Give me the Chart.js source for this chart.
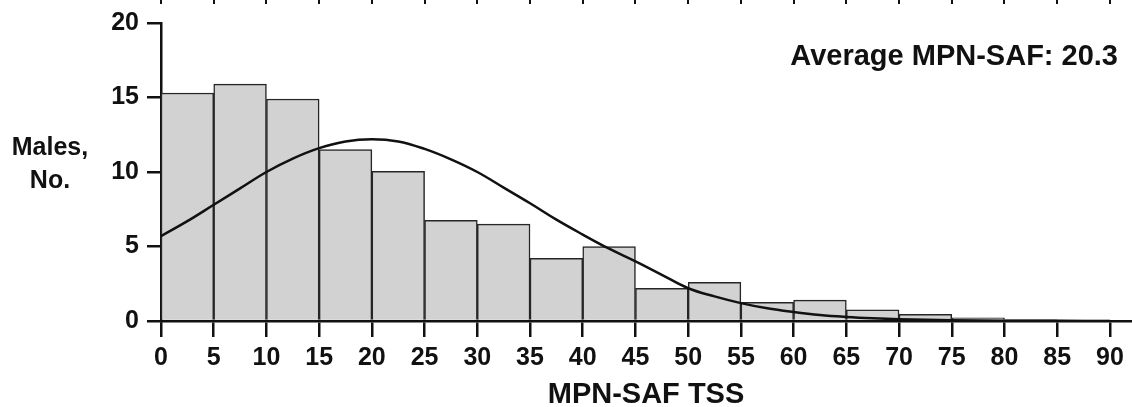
<!DOCTYPE html>
<html>
<head>
<meta charset="utf-8">
<script src="https://cdn.jsdelivr.net/npm/chart.js@4.4.1/dist/chart.umd.min.js"></script>
<style>
  html, body { margin: 0; background: #fff; }
  #wrap { width: 1132px; height: 407px; position: relative; }
</style>
</head>
<body>
<div id="wrap"><canvas id="c"></canvas></div>
<script>
// histogram bins (5-point wide), centres and heights
const binCenters = [2.5, 7.5, 12.5, 17.5, 22.5, 27.5, 32.5, 37.5, 42.5, 47.5, 52.5, 57.5, 62.5, 67.5, 72.5, 77.5, 82.5, 87.5];
const counts = [15.3, 15.9, 14.9, 11.5, 10.05, 6.75, 6.5, 4.2, 5.0, 2.2, 2.6, 1.25, 1.4, 0.75, 0.45, 0.22, 0.1, 0.05];

// fitted curve, sampled by eye
const curveX = [0, 2.5, 5, 7.5, 10, 12.5, 15, 17.5, 20, 22.5, 25, 27.5, 30, 32.5, 35, 37.5, 40, 42.5, 45, 47.5, 50, 52.5, 55, 57.5, 60, 62.5, 65, 67.5, 70, 75, 80, 85, 90];
const curveY = [5.7, 6.7, 7.8, 8.9, 10.0, 10.9, 11.6, 12.05, 12.2, 12.05, 11.55, 10.85, 10.0, 8.95, 7.9, 6.8, 5.8, 4.85, 4.0, 3.1, 2.2, 1.65, 1.2, 0.85, 0.6, 0.4, 0.27, 0.18, 0.12, 0.05, 0.02, 0.01, 0];

const xTicks = [0, 5, 10, 15, 20, 25, 30, 35, 40, 45, 50, 55, 60, 65, 70, 75, 80, 85, 90];
const yLabelLines = ["Males,", "No."];
const xTitle = "MPN-SAF TSS";
const meanLabel = "Average MPN-SAF: 20.3";

const INK = "#111";
const FONT = "'Liberation Sans', Arial, Helvetica, sans-serif";

// horizontal y label, the mean note and the stub ticks along the top edge
const extras = {
  id: "extras",
  afterDraw(chart) {
    const { ctx, chartArea, scales: { x } } = chart;
    ctx.save();
    ctx.strokeStyle = INK;
    ctx.lineWidth = 2;
    xTicks.forEach((v) => {
      const px = Math.round(x.getPixelForValue(v));
      ctx.beginPath(); ctx.moveTo(px, 0); ctx.lineTo(px, 4); ctx.stroke();
    });
    ctx.fillStyle = INK;
    ctx.font = `bold 25px ${FONT}`;
    ctx.textAlign = "center";
    ctx.textBaseline = "middle";
    yLabelLines.forEach((t, i) => ctx.fillText(t, 50, 148 + i * 33));
    ctx.font = `bold 29px ${FONT}`;
    ctx.textAlign = "right";
    ctx.textBaseline = "alphabetic";
    ctx.fillText(meanLabel, chartArea.right - 13, 65);
    ctx.restore();
  },
};

new Chart(document.getElementById("c"), {
  type: "bar",
  data: {
    datasets: [
      {
        type: "line",
        data: curveX.map((v, i) => ({ x: v, y: curveY[i] })),
        borderColor: INK, borderWidth: 2.5, pointRadius: 0,
        tension: 0.4, fill: false, order: 0,
      },
      {
        data: binCenters.map((v, i) => ({ x: v, y: counts[i] })),
        backgroundColor: "#d2d2d2", borderColor: "#262626", borderWidth: 1.5,
        barPercentage: 1, categoryPercentage: 1, grouped: false, order: 1,
      },
    ],
  },
  options: {
    responsive: true, maintainAspectRatio: false, animation: false,
    layout: { padding: { top: 19, right: 1, left: 0, bottom: 0 } },
    plugins: { legend: { display: false }, tooltip: { enabled: false } },
    scales: {
      x: {
        type: "linear", min: 0, max: 92, offset: false,
        afterBuildTicks: (s) => { s.ticks = xTicks.map((v) => ({ value: v })); },
        afterFit: (s) => { s.height = 86; },
        grid: { offset: false, drawOnChartArea: false, tickLength: 16, color: INK, lineWidth: 2.5 },
        border: { color: INK, width: 2.5 },
        ticks: { color: INK, font: { family: FONT, size: 25, weight: "bold" }, padding: 6, maxRotation: 0, autoSkip: false },
        title: { display: true, text: xTitle, color: INK, font: { family: FONT, size: 29, weight: "bold" }, padding: { top: 2, bottom: -5 } },
      },
      y: {
        min: 0, max: 20,
        afterFit: (s) => { s.width = 161; },
        grid: { drawOnChartArea: false, tickLength: 14, color: INK, lineWidth: 2.5 },
        border: { color: INK, width: 2.5 },
        ticks: { stepSize: 5, color: INK, font: { family: FONT, size: 25, weight: "bold" }, padding: 8 },
      },
    },
  },
  plugins: [extras],
});
</script>
</body>
</html>
